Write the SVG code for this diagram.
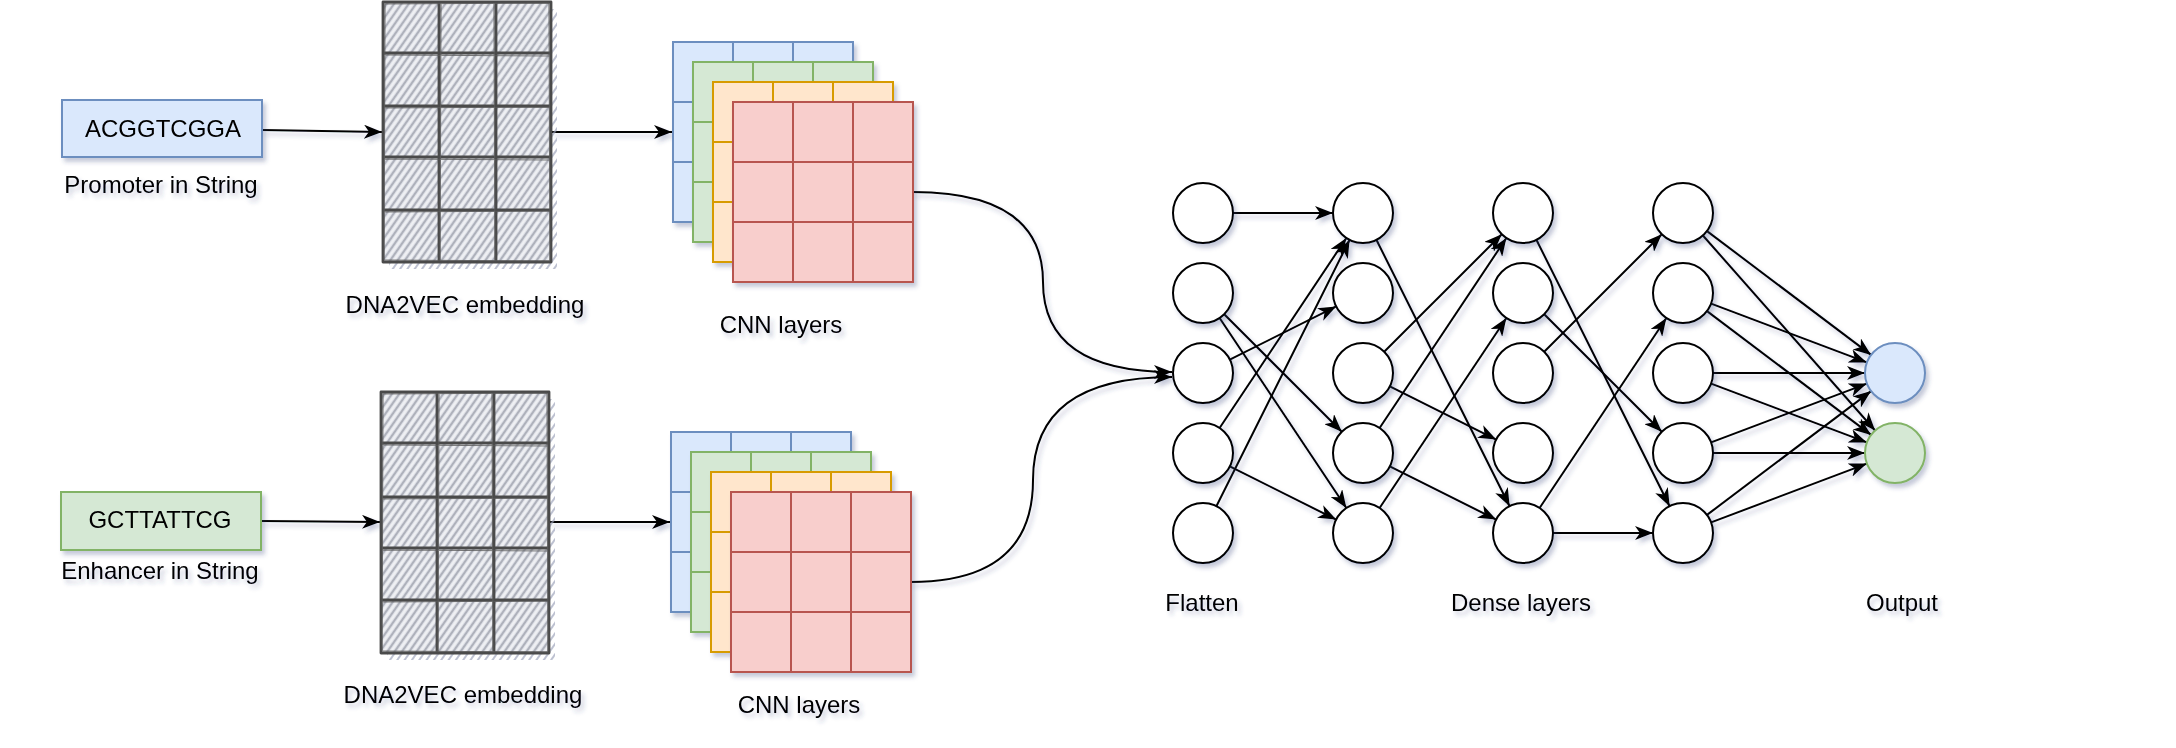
<svg xmlns="http://www.w3.org/2000/svg" width="2176" height="748" viewBox="0 0 2176 748">
<style>
.t{font-family:"Liberation Sans",Arial,Helvetica,sans-serif;font-size:24px;fill:#000;text-anchor:middle}
.e{fill:none;stroke:#000;stroke-width:2;marker-end:url(#arr)}
.n{fill:#fff;stroke:#000;stroke-width:2}
.g{fill:none;stroke:#4a4a4a;stroke-width:2.8;stroke-linejoin:round}
.g2{fill:none;stroke:#5a5a5a;stroke-width:1.2;opacity:0.8}
.bl{fill:#dae8fc;stroke:#6c8ebf;stroke-width:2}
.gr{fill:#d5e8d4;stroke:#82b366;stroke-width:2}
.or{fill:#ffe6cc;stroke:#d79b00;stroke-width:2}
.rd{fill:#f8cecc;stroke:#b85450;stroke-width:2}
.blL{stroke:#6c8ebf;stroke-width:2}
.grL{stroke:#82b366;stroke-width:2}
.orL{stroke:#d79b00;stroke-width:2}
.rdL{stroke:#b85450;stroke-width:2}
</style>
<defs>
<filter id="sh" filterUnits="userSpaceOnUse" x="0" y="0" width="2176" height="748">
<feGaussianBlur in="SourceAlpha" stdDeviation="2"/>
<feOffset dx="3" dy="4" result="b"/>
<feFlood flood-color="#34427a" flood-opacity="0.28"/>
<feComposite in2="b" operator="in"/>
<feMerge><feMergeNode/><feMergeNode in="SourceGraphic"/></feMerge>
</filter>
<marker id="arr" markerUnits="userSpaceOnUse" markerWidth="20" markerHeight="14" viewBox="0 0 20 14" refX="18" refY="7" orient="auto">
<path d="M0,0 L18,7 L0,14 L5,7 Z" fill="#000"/>
</marker>
<pattern id="hatch" patternUnits="userSpaceOnUse" width="6" height="6" patternTransform="rotate(35)">
<rect width="6" height="6" fill="#dfe1e8"/>
<line x1="1" y1="0" x2="1" y2="6" stroke="#7d818e" stroke-width="1"/>
<line x1="4" y1="0" x2="4" y2="6" stroke="#f7f7f9" stroke-width="1.4"/>
</pattern>
<pattern id="hatchSh" patternUnits="userSpaceOnUse" width="6" height="6" patternTransform="rotate(35)">
<line x1="2" y1="0" x2="2" y2="6" stroke="#9aa0b8" stroke-width="1.3"/>
</pattern>
</defs>

<g id="connectors">
<g filter="url(#sh)">
<path class="e" d="M262,130 L382,132"/>
<path class="e" d="M551,132 L672,132"/>
<path class="e" d="M261,521 L380,522"/>
<path class="e" d="M549,522 L670,522"/>
<path class="e" d="M913,192 Q1043,192 1043,282 Q1043,372 1172,372"/>
<path class="e" d="M911,582 Q1033,582 1033,480 Q1033,377 1172,377"/>
<path class="e" d="M1233,213 L1333,213"/>
<path class="e" d="M1224.2,314.2 L1341.8,431.8"/>
<path class="e" d="M1219.6,318 L1346.4,508"/>
<path class="e" d="M1229.8,359.6 L1336.2,306.4"/>
<path class="e" d="M1219.6,428 L1346.4,238"/>
<path class="e" d="M1229.8,466.4 L1336.2,519.6"/>
<path class="e" d="M1216.4,506.2 L1349.6,239.8"/>
<path class="e" d="M1376.4,239.8 L1509.6,506.2"/>
<path class="e" d="M1384.2,351.8 L1501.8,234.2"/>
<path class="e" d="M1389.8,386.4 L1496.2,439.6"/>
<path class="e" d="M1379.6,428 L1506.4,238"/>
<path class="e" d="M1389.8,466.4 L1496.2,519.6"/>
<path class="e" d="M1379.6,508 L1506.4,318"/>
<path class="e" d="M1536.4,239.8 L1669.6,506.2"/>
<path class="e" d="M1544.2,314.2 L1661.8,431.8"/>
<path class="e" d="M1544.2,351.8 L1661.8,234.2"/>
<path class="e" d="M1539.6,508 L1666.4,318"/>
<path class="e" d="M1553,533 L1653,533"/>
<path class="e" d="M1707,231.1 L1871.1,354.9"/>
<path class="e" d="M1702.9,235.5 L1875.1,430.5"/>
<path class="e" d="M1711.1,303.6 L1866.9,362.4"/>
<path class="e" d="M1707,311.1 L1871.1,434.9"/>
<path class="e" d="M1713,373 L1865,373"/>
<path class="e" d="M1711.1,383.6 L1866.9,442.4"/>
<path class="e" d="M1711.1,442.4 L1866.9,383.6"/>
<path class="e" d="M1713,453 L1865,453"/>
<path class="e" d="M1707,514.9 L1871.1,391.1"/>
<path class="e" d="M1711.1,522.4 L1866.9,463.6"/>
</g>
</g>

<g id="promoter" filter="url(#sh)">
<rect x="62" y="100" width="200" height="57" class="bl"/>
<text class="t" x="163" y="137">ACGGTCGGA</text>
</g>
<g id="promoter-label" filter="url(#sh)"><text class="t" x="161" y="193">Promoter in String</text></g>

<g id="enhancer" filter="url(#sh)">
<rect x="61" y="492" width="200" height="58" class="gr"/>
<text class="t" x="160" y="528">GCTTATTCG</text>
</g>
<g id="enhancer-label" filter="url(#sh)"><text class="t" x="160" y="579">Enhancer in String</text></g>

<g id="embedding-top">
<rect x="389" y="9" width="168" height="260" fill="url(#hatchSh)"/>
<rect x="383" y="2" width="168" height="260" fill="url(#hatch)"/>
<path class="g" d="M383,2 L551,2 L551,262 L383,262 Z M439,2 L439,262 M496,2 L496,262 M383,53 L551,53 M383,106 L551,106 M383,157 L551,157 M383,210 L551,210"/>
<path class="g2" d="M385,4 L549,3 M384,55 L550,56 M385,108 L549,107 M384,159 L550,160 M385,212 L549,211 M385,260 L550,261 M441,4 L440,260 M494,3 L495,261 M385,4 L384,260 M549,3 L550,260"/>
<text class="t" x="465" y="313" filter="url(#sh)">DNA2VEC embedding</text>
</g>

<g id="embedding-bottom">
<rect x="387" y="399" width="168" height="261" fill="url(#hatchSh)"/>
<rect x="381" y="392" width="168" height="261" fill="url(#hatch)"/>
<path class="g" d="M381,392 L549,392 L549,653 L381,653 Z M437,392 L437,653 M494,392 L494,653 M381,443 L549,443 M381,497 L549,497 M381,548 L549,548 M381,600 L549,600"/>
<path class="g2" d="M383,394 L547,393 M382,445 L548,446 M383,499 L547,498 M382,550 L548,551 M383,602 L547,601 M383,651 L548,652 M439,394 L438,651 M492,393 L493,652 M383,394 L382,651 M547,393 L548,651"/>
<text class="t" x="463" y="703" filter="url(#sh)">DNA2VEC embedding</text>
</g>

<g id="cnn-top">
<g filter="url(#sh)">
<rect x="673" y="42" width="180" height="180" class="bl"/>
<path class="blL" d="M733,42 V222 M793,42 V222 M673,102 H853 M673,162 H853"/>
</g>
<g filter="url(#sh)">
<rect x="693" y="62" width="180" height="180" class="gr"/>
<path class="grL" d="M753,62 V242 M813,62 V242 M693,122 H873 M693,182 H873"/>
</g>
<g filter="url(#sh)">
<rect x="713" y="82" width="180" height="180" class="or"/>
<path class="orL" d="M773,82 V262 M833,82 V262 M713,142 H893 M713,202 H893"/>
</g>
<g filter="url(#sh)">
<rect x="733" y="102" width="180" height="180" class="rd"/>
<path class="rdL" d="M793,102 V282 M853,102 V282 M733,162 H913 M733,222 H913"/>
</g>
<text class="t" x="781" y="333" filter="url(#sh)">CNN layers</text>
</g>

<g id="cnn-bottom">
<g filter="url(#sh)">
<rect x="671" y="432" width="180" height="180" class="bl"/>
<path class="blL" d="M731,432 V612 M791,432 V612 M671,492 H851 M671,552 H851"/>
</g>
<g filter="url(#sh)">
<rect x="691" y="452" width="180" height="180" class="gr"/>
<path class="grL" d="M751,452 V632 M811,452 V632 M691,512 H871 M691,572 H871"/>
</g>
<g filter="url(#sh)">
<rect x="711" y="472" width="180" height="180" class="or"/>
<path class="orL" d="M771,472 V652 M831,472 V652 M711,532 H891 M711,592 H891"/>
</g>
<g filter="url(#sh)">
<rect x="731" y="492" width="180" height="180" class="rd"/>
<path class="rdL" d="M791,492 V672 M851,492 V672 M731,552 H911 M731,612 H911"/>
</g>
<text class="t" x="799" y="713" filter="url(#sh)">CNN layers</text>
</g>

<g id="flatten" filter="url(#sh)">
<g id="f1"><circle class="n" cx="1203" cy="213" r="30"/></g>
<g id="f2"><circle class="n" cx="1203" cy="293" r="30"/></g>
<g id="f3"><circle class="n" cx="1203" cy="373" r="30"/></g>
<g id="f4"><circle class="n" cx="1203" cy="453" r="30"/></g>
<g id="f5"><circle class="n" cx="1203" cy="533" r="30"/></g>
<text class="t" x="1202" y="611">Flatten</text>
</g>

<g id="dense1" filter="url(#sh)">
<g id="d1-1"><circle class="n" cx="1363" cy="213" r="30"/></g>
<g id="d1-2"><circle class="n" cx="1363" cy="293" r="30"/></g>
<g id="d1-3"><circle class="n" cx="1363" cy="373" r="30"/></g>
<g id="d1-4"><circle class="n" cx="1363" cy="453" r="30"/></g>
<g id="d1-5"><circle class="n" cx="1363" cy="533" r="30"/></g>
</g>

<g id="dense2" filter="url(#sh)">
<g id="d2-1"><circle class="n" cx="1523" cy="213" r="30"/></g>
<g id="d2-2"><circle class="n" cx="1523" cy="293" r="30"/></g>
<g id="d2-3"><circle class="n" cx="1523" cy="373" r="30"/></g>
<g id="d2-4"><circle class="n" cx="1523" cy="453" r="30"/></g>
<g id="d2-5"><circle class="n" cx="1523" cy="533" r="30"/></g>
<text class="t" x="1521" y="611">Dense layers</text>
</g>

<g id="dense3" filter="url(#sh)">
<g id="d3-1"><circle class="n" cx="1683" cy="213" r="30"/></g>
<g id="d3-2"><circle class="n" cx="1683" cy="293" r="30"/></g>
<g id="d3-3"><circle class="n" cx="1683" cy="373" r="30"/></g>
<g id="d3-4"><circle class="n" cx="1683" cy="453" r="30"/></g>
<g id="d3-5"><circle class="n" cx="1683" cy="533" r="30"/></g>
</g>

<g id="output" filter="url(#sh)">
<g id="o1"><circle class="bl" cx="1895" cy="373" r="30"/></g>
<g id="o2"><circle class="gr" cx="1895" cy="453" r="30"/></g>
<text class="t" x="1902" y="611">Output</text>
</g>
</svg>
